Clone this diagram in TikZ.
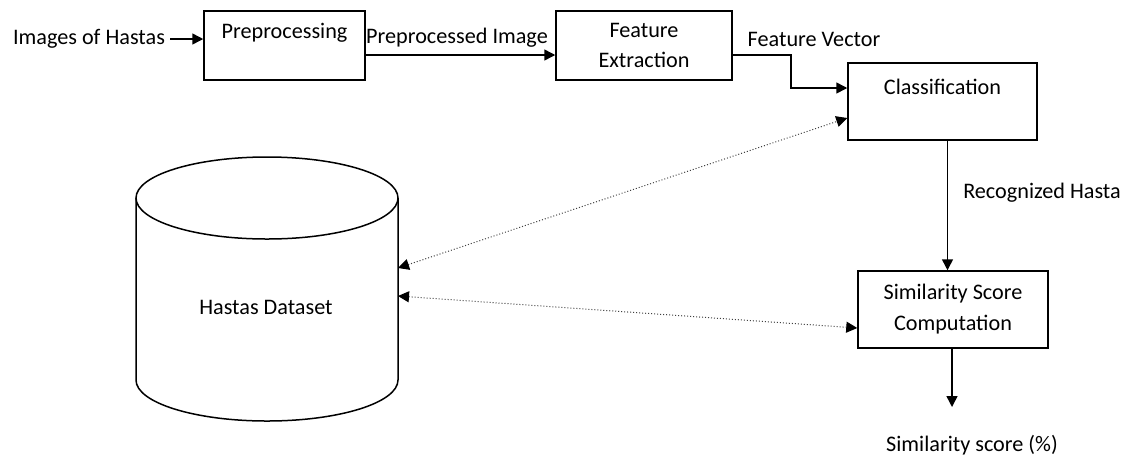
\documentclass[tikz,border=0pt]{standalone}
\usepackage{fontspec}
\setmainfont{Carlito}
\usetikzlibrary{arrows.meta}
\begin{document}
\begin{tikzpicture}[x=1pt,y=1pt,
  every node/.style={font=\fontsize{22.2}{30}\selectfont},
  box/.style={draw, line width=1.5pt, align=center, inner sep=0pt},
  lbl/.style={inner sep=0pt},
  arr/.style={line width=1.5pt, -{Triangle[length=11pt,width=11pt]}},
  link/.style={dotted, line width=1pt, draw=black!75,
    {Triangle[length=11pt,width=11pt,color=black]}-{Triangle[length=11pt,width=11pt,color=black]}}]
\useasboundingbox (0,0) rectangle (1129,-459);

% processing blocks
\node[box, minimum width=161pt, minimum height=69pt] (pre) at (284.5,-45.5) {Preprocessing\\\mbox{}};
\node[box, minimum width=176pt, minimum height=69pt] (fe) at (644,-45.5) {Feature\\Extraction};
\node[box, minimum width=189pt, minimum height=77pt] (cls) at (942.5,-101.5) {Classification\\\mbox{}};
\node[box, minimum width=190pt, minimum height=77pt] (sim) at (953,-309.5) {Similarity Score\\[1pt]Computation};

% dataset cylinder
\draw[line width=1.5pt] (136,-198) -- (136,-380)
  arc[start angle=180, end angle=360, x radius=131pt, y radius=41pt] -- (398,-198);
\draw[line width=1.5pt] (267,-198) ellipse [x radius=131pt, y radius=41pt];
\node[lbl] (db) at (266,-307) {Hastas Dataset};
\coordinate (dbA) at (398,-268);
\coordinate (dbB) at (398,-296);

% text labels
\node[lbl] (in) at (89,-39) {Images of Hastas};
\node[lbl] (ppi) at (457,-38) {Preprocessed Image};
\node[lbl] (fv) at (814,-39) {Feature Vector};
\node[lbl] (rh) at (1042,-193) {Recognized Hasta};
\node[lbl] (out) at (972,-445) {Similarity score (\%)};
\coordinate (bend) at (791,-88);
\coordinate (res) at (952,-407);

% connectors
\draw[arr] ([xshift=5pt]in.east) -- (in.east -| pre.west);
\draw[arr] ([yshift=-9.5pt]pre.east) -- ([yshift=-9.5pt]fe.west);
\draw[arr] ([yshift=-9.5pt]fe.east) -| (bend) -- (bend -| cls.west);
\draw[arr] ([xshift=5pt]cls.south) -- ([xshift=5pt]cls.south |- sim.north);
\draw[arr] (res |- sim.south) -- (res);
\draw[link] (dbA) -- ([yshift=-16.5pt]cls.west);
\draw[link] (dbB) -- ([yshift=-18.5pt]sim.west);
\end{tikzpicture}
\end{document}
